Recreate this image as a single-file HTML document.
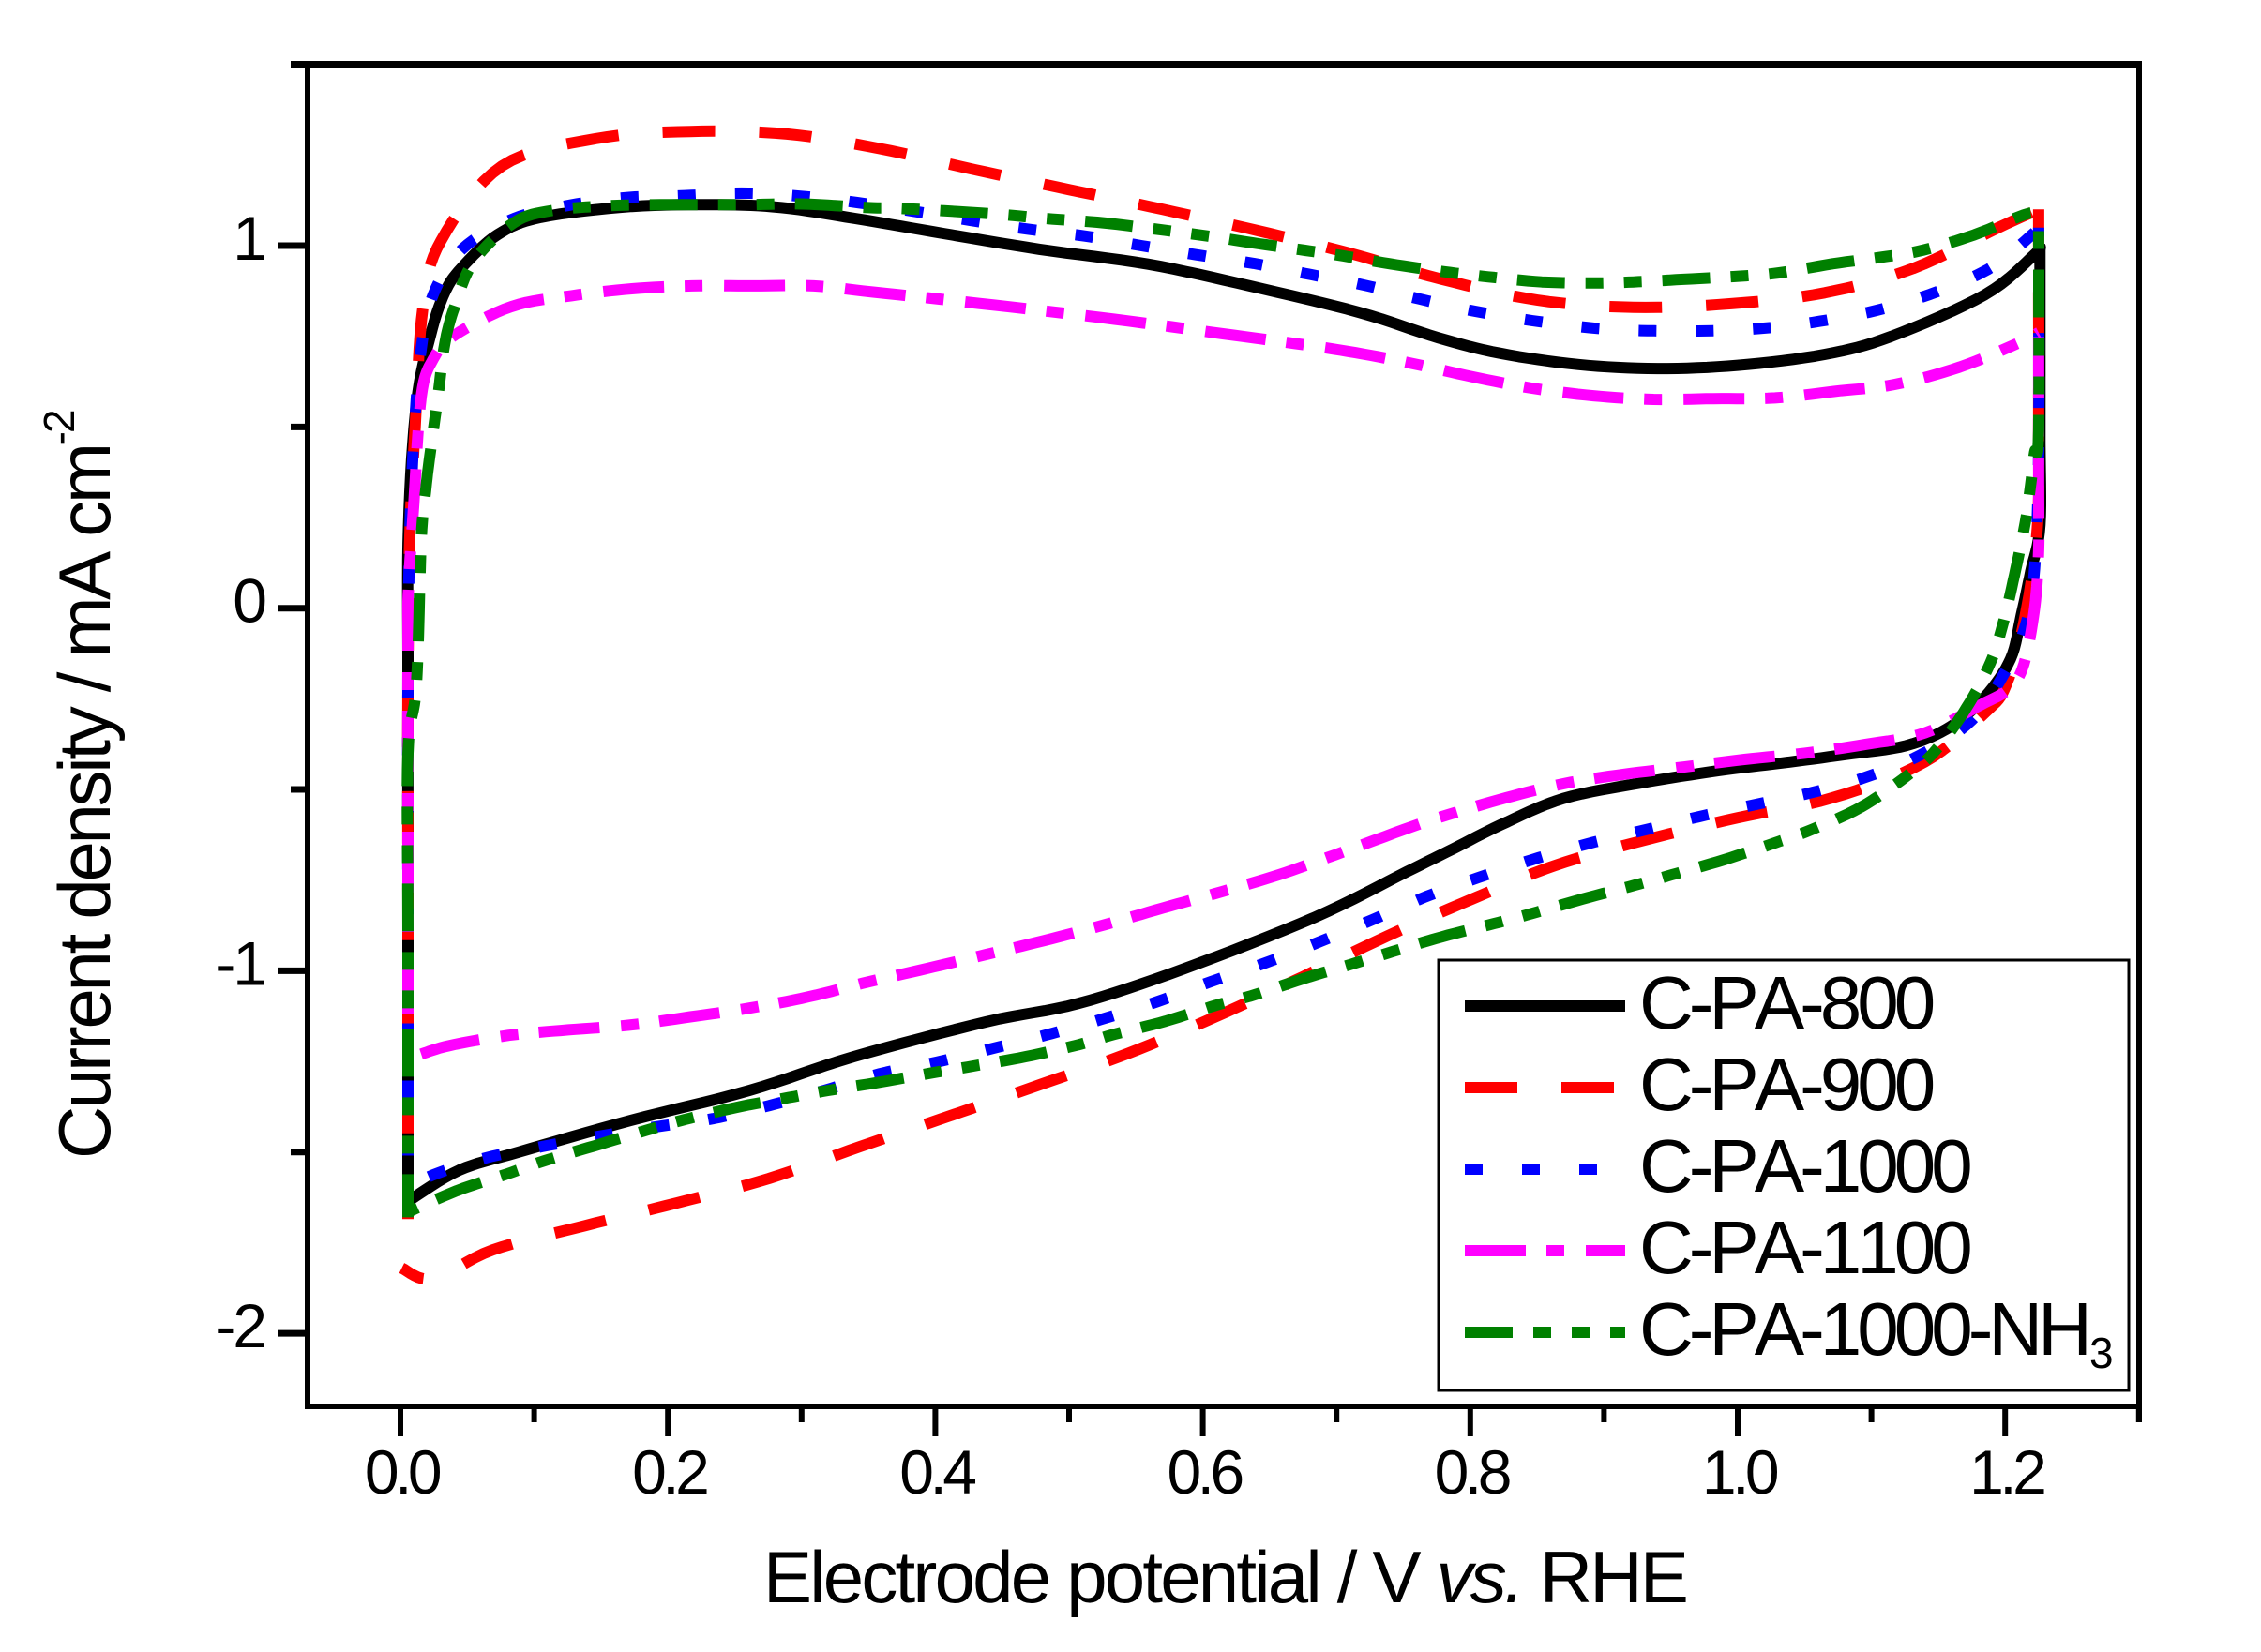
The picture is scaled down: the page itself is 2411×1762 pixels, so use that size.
<!DOCTYPE html>
<html><head><meta charset="utf-8"><title>Cyclic voltammetry chart</title>
<style>html,body{margin:0;padding:0;background:#fff}svg{display:block}text{font-family:"Liberation Sans",Arial,sans-serif;fill:#000;font-kerning:none}</style>
</head><body>
<svg id="chart" xmlns="http://www.w3.org/2000/svg" width="2411" height="1762" viewBox="0 0 2411 1762">
<rect width="2411" height="1762" fill="#fff"/>
<g id="curves"></g>
<g id="axes"></g>
<text x="814" y="1709" font-size="78" letter-spacing="-2.8">Electrode potential / V <tspan font-style="italic">vs.</tspan> RHE</text>
<text transform="translate(117,1236) rotate(-90)" font-size="78" letter-spacing="-3.3">Current density / mA cm<tspan font-size="46" dy="-38" letter-spacing="-2">-2</tspan></text>
<g id="legend">
<rect x="1534" y="1024" width="736" height="459" fill="#fff" stroke="#000" stroke-width="3"/>
</g>
</svg>
<script>
const potential800=[.0056,.0056,.0056,.006,.012,.0225,.033,.046,.0725,.105,.173,.238,.285,.34,.3976,.478,.559,.635,.717,.776,.8226,.881,.94,1.0,1.065,1.115,1.185,1.222,1.226,1.226,1.226,1.219,1.212,1.204,1.185,1.159,1.126,1.08,1.033,.986,.9278,.8696,.8226,.7875,.7525,.684,.5855,.507,.438,.339,.261,.172,.0885,.044,.008];
const current800=[-1.63,-.9,-.2,.226,.567,.753,.87,.94,1.03,1.078,1.108,1.113,1.105,1.075,1.039,.99,.949,.889,.816,.746,.703,.672,.661,.67,.70,.75,.865,.976,1.0,.5,.23,.1,-.02,-.14,-.244,-.327,-.379,-.404,-.427,-.448,-.482,-.525,-.598,-.663,-.727,-.852,-.995,-1.09,-1.141,-1.237,-1.33,-1.413,-1.5,-1.55,-1.63];
const potential900=[.0056,.0056,.0056,.007,.011,.0168,.0305,.076,.146,.2165,.289,.358,.429,.4995,.57,.6415,.709,.778,.85,.922,.995,1.065,1.131,1.195,1.225,1.225,1.224,1.215,1.201,1.185,1.1395,1.071,.9998,.931,.863,.8015,.738,.674,.6095,.544,.4776,.411,.3437,.2755,.207,.138,.069,.0245,.001];
const current900=[-1.685,-.9,-.2,.2,.5,.83,1.015,1.22,1.295,1.315,1.308,1.268,1.21,1.155,1.10,1.041,.98,.908,.85,.83,.84,.87,.937,1.05,1.10,.5,.22,-.02,-.21,-.288,-.425,-.523,-.578,-.639,-.71,-.802,-.904,-1.018,-1.127,-1.228,-1.315,-1.40,-1.485,-1.573,-1.64,-1.703,-1.77,-1.85,-1.82];
const potential1000=[.0056,.0056,.0056,.007,.0105,.0155,.0245,.046,.085,.127,.17,.2125,.255,.297,.3415,.4257,.468,.511,.554,.595,.638,.681,.721,.762,.8037,.8525,.901,.943,.987,1.03,1.072,1.113,1.154,1.191,1.22,1.225,1.225,1.222,1.215,1.199,1.175,1.137,1.0975,1.056,1.014,.971,.929,.8876,.846,.806,.7665,.727,.688,.647,.606,.566,.524,.482,.443,.401,.3585,.317,.2755,.2335,.192,.1476,.106,.064,.0245,.006];
const current1000=[-1.6,-.9,-.2,.2,.5,.715,.865,.99,1.075,1.112,1.133,1.138,1.145,1.137,1.119,1.07,1.046,1.027,1.0,.975,.951,.92,.891,.853,.819,.79,.77,.765,.766,.776,.798,.83,.88,.943,1.03,1.05,.43,.11,-.05,-.182,-.309,-.404,-.464,-.508,-.541,-.575,-.613,-.65,-.694,-.743,-.796,-.859,-.919,-.978,-1.03,-1.085,-1.134,-1.178,-1.214,-1.252,-1.284,-1.33,-1.372,-1.408,-1.43,-1.457,-1.485,-1.516,-1.563,-1.6];
const potential1100=[.0056,.0056,.0056,.006,.01,.0155,.0245,.0405,.083,.128,.173,.218,.264,.309,.3535,.444,.534,.615,.669,.714,.758,.802,.846,.892,.937,.982,1.028,1.072,1.117,1.166,1.212,1.225,1.225,1.225,1.222,1.214,1.203,1.182,1.14,1.095,1.05,1.005,.96,.915,.87,.8267,.783,.756,.699,.657,.614,.57,.5266,.481,.438,.3934,.3506,.305,.261,.2167,.171,.1255,.081,.037,.0155];
const current1100=[-1.22,-.6,-.1,.055,.29,.583,.687,.753,.832,.862,.881,.889,.889,.889,.872,.836,.797,.757,.73,.705,.674,.638,.607,.586,.576,.578,.58,.598,.617,.665,.735,.76,.35,.16,.0,-.154,-.222,-.266,-.344,-.376,-.40,-.417,-.438,-.458,-.484,-.523,-.57,-.603,-.68,-.735,-.782,-.827,-.873,-.917,-.955,-.994,-1.03,-1.072,-1.103,-1.127,-1.15,-1.163,-1.178,-1.206,-1.23];
const potential1000N=[.0056,.0056,.0056,.012,.0155,.019,.0225,.028,.033,.0405,.055,.085,.1135,.155,.194,.253,.3,.35,.373,.442,.482,.528,.597,.637,.6765,.7047,.745,.785,.8135,.8535,.894,.922,.954,1.002,1.031,1.071,1.111,1.139,1.177,1.214,1.225,1.225,1.222,1.219,1.215,1.207,1.198,1.189,1.171,1.148,1.126,1.092,1.055,1.028,.9895,.951,.923,.884,.846,.8177,.779,.742,.7146,.675,.639,.61,.572,.534,.507,.4675,.428,.4,.359,.32,.29,.251,.213,.184,.145,.107,.08,.042,.006];
const current1000N=[-1.68,-.9,-.4,-.21,.187,.33,.435,.583,.727,.832,.958,1.064,1.097,1.11,1.113,1.113,1.115,1.105,1.103,1.088,1.075,1.062,1.03,1.008,.987,.972,.947,.926,.914,.90,.897,.90,.906,.916,.925,.95,.97,.988,1.03,1.085,1.09,.49,.43,.34,.236,.092,-.048,-.15,-.275,-.392,-.464,-.549,-.611,-.647,-.694,-.735,-.764,-.802,-.842,-.87,-.906,-.947,-.978,-1.022,-1.066,-1.095,-1.139,-1.175,-1.204,-1.237,-1.263,-1.28,-1.307,-1.33,-1.35,-1.377,-1.41,-1.44,-1.483,-1.525,-1.56,-1.607,-1.665];

const seriesNames=["C-PA-800","C-PA-900","C-PA-1000","C-PA-1100","C-PA-1000-NH"];
const xTickValues=[0,.2,.4,.6,.8,1,1.2];
const xTickLabels=["0.0","0.2","0.4","0.6","0.8","1.0","1.2"];
const xMinorValues=[.1,.3,.5,.7,.9,1.1,1.3];
const yTickValues=[1,0,-1,-2];
const yTickLabels=["1","0","-1","-2"];
const yMinorValues=[1.5,.5,-.5,-1.5];

const xAt=v=>427+1426*v;
const yAt=j=>648.7-386.7*j;
const NS="http://www.w3.org/2000/svg";
function make(tag,parent,attrs){const e=document.createElementNS(NS,tag);for(const k in attrs)e.setAttribute(k,attrs[k]);parent.appendChild(e);return e;}

const STEPS=8;
// Catmull-Rom smoothing through screen points; returns a dense list.
function smooth(p){
  const out=[];
  for(let i=0;i<p.length-1;i++){
    const a=p[Math.max(i-1,0)],b=p[i],c=p[i+1],d=p[Math.min(i+2,p.length-1)];
    for(let s=0;s<STEPS;s++){
      const t=s/STEPS,t2=t*t,t3=t2*t;
      out.push([
        .5*(2*b[0]+(c[0]-a[0])*t+(2*a[0]-5*b[0]+4*c[0]-d[0])*t2+(3*b[0]-a[0]-3*c[0]+d[0])*t3),
        .5*(2*b[1]+(c[1]-a[1])*t+(2*a[1]-5*b[1]+4*c[1]-d[1])*t2+(3*b[1]-a[1]-3*c[1]+d[1])*t3)
      ]);
    }
  }
  out.push(p[p.length-1]);
  return out;
}
function lengthTo(pts,n){let L=0;for(let i=1;i<=n;i++)L+=Math.hypot(pts[i][0]-pts[i-1][0],pts[i][1]-pts[i-1][1]);return L;}

const curves=document.getElementById('curves');
const axes=document.getElementById('axes');
const legend=document.getElementById('legend');
// sections: [start index, end index, index of a dash centre]
const styles=[
 {c:"#000000",d:"none",first:0,xs:potential800,ys:current800,sections:[[0,28,0],[28,54,28]]},
 {c:"#ff0000",d:"56 47",first:56,xs:potential900,ys:current900,sections:[[0,24,15],[24,37,34],[37,48,41]]},
 {c:"#0000ff",d:"19 42",first:19,xs:potential1000,ys:current1000,sections:[[0,35,20],[35,69,50]]},
 {c:"#ff00ff",d:"65 22 19 23",first:65,xs:potential1100,ys:current1100,sections:[[0,31,19],[31,64,45]]},
 {c:"#008000",d:"51 22 19 22 19 22",first:51,xs:potential1000N,ys:current1000N,sections:[[0,40,26],[40,82,57]]}
];
styles.forEach((s,i)=>{
  const screen=s.xs.map((v,k)=>[xAt(v),yAt(s.ys[k])]);
  s.sections.forEach((r,n)=>{
    const dense=smooth(screen.slice(r[0],r[1]+1));
    const anchorLen=lengthTo(dense,(r[2]-r[0])*STEPS);
    const line=make('polyline',curves,{points:dense.map(q=>q[0].toFixed(1)+","+q[1].toFixed(1)).join(" "),fill:"none",stroke:s.c,"stroke-width":12,"stroke-linejoin":"round","stroke-dasharray":s.d,"stroke-dashoffset":(s.first/2-anchorLen).toFixed(1)});
    
    
  });
  const ly=1073+87*i;
  const sample=make('line',legend,{x1:1562,x2:1733,y1:ly,y2:ly,stroke:s.c,"stroke-width":12,"stroke-dasharray":s.d});
  
  
  const label=make('text',legend,{x:1748,y:1097+87*i,"font-size":80,"letter-spacing":-5});
  
  
  label.textContent=seriesNames[i];
  if(i===4){
    const sub=make('tspan',label,{"font-size":46,dy:14,dx:2,"letter-spacing":0});
    sub.textContent="3";
  }
});

// frame
[[310,68.5,2284,68.5,7],[325,1500,2284,1500,6],[328,65,328,1503,6],[2281,65,2281,1517,6]].forEach((a,i)=>{
  const f=make('line',axes,{x1:a[0],y1:a[1],x2:a[2],y2:a[3],stroke:"#000","stroke-width":a[4]});
  
  
});
xTickValues.forEach((v,i)=>{
  const x=xAt(v);
  const t=make('line',axes,{x1:x,x2:x,y1:1500,y2:1532,stroke:"#000","stroke-width":6});
  
  
  const l=make('text',axes,{x:x+1,y:1593,"font-size":66,"letter-spacing":-4.5,"text-anchor":"middle"});
  
  
  l.textContent=xTickLabels[i];
});
xMinorValues.forEach(v=>{
  const x=xAt(v);
  const t=make('line',axes,{x1:x,x2:x,y1:1500,y2:1517,stroke:"#000","stroke-width":6});
  
  
});
yTickValues.forEach((j,i)=>{
  const y=yAt(j);
  const t=make('line',axes,{x1:296,x2:328,y1:y,y2:y,stroke:"#000","stroke-width":7});
  
  
  const l=make('text',axes,{x:282,y:y+15,"font-size":66,"letter-spacing":-3,"text-anchor":"end"});
  
  
  l.textContent=yTickLabels[i];
});
yMinorValues.forEach(j=>{
  const y=yAt(j);
  const t=make('line',axes,{x1:310,x2:328,y1:y,y2:y,stroke:"#000","stroke-width":7});
  
  
});
</script>
</body></html>
